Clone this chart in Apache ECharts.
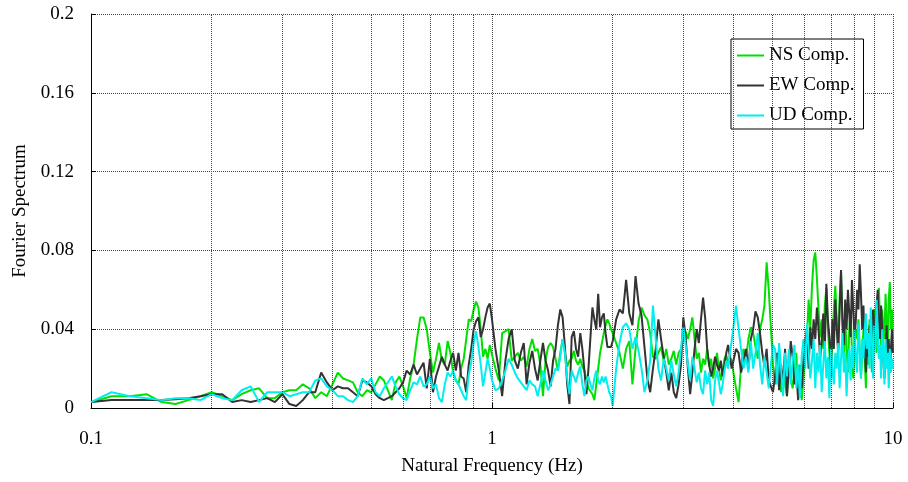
<!DOCTYPE html>
<html><head><meta charset="utf-8">
<script src="https://cdn.jsdelivr.net/npm/echarts@6/dist/echarts.min.js"></script>
<style>html,body{margin:0;padding:0;background:#fff}#c{width:908px;height:482px}</style>
</head><body><div id="c"></div>
<script>
// Frequencies (Hz)
const freqLow = [0.1,0.1125,0.125,0.1375,0.15,0.1625,0.175,0.1875,0.2,0.2125,0.225,0.2375,0.25,0.2625,0.275,0.2875,0.3,0.3125,0.325,0.3375,0.35,0.3625,0.375,0.3875,0.4,0.4125,0.425,0.4375,0.45,0.4625,0.475,0.4875,0.5,0.5125,0.525,0.5375,0.55,0.5625,0.575,0.5875,0.6,0.6125,0.625,0.6375,0.65,0.6625,0.675,0.6875,0.7,0.7125,0.725,0.7375,0.75,0.7625,0.775,0.7875,0.8,0.8125,0.825,0.8375,0.85,0.8625,0.875,0.8875,0.9,0.9125,0.925,0.9375,0.95,0.9625,0.975,0.9875,1.0];
const freqMid = [1.02,1.04,1.06,1.08,1.10,1.12,1.14,1.16,1.18,1.20,1.22,1.24,1.26,1.28,1.30,1.32,1.34,1.36,1.38,1.40,1.42,1.44,1.46,1.48,1.50,1.52,1.54,1.56,1.58,1.60,1.62,1.64,1.66,1.68,1.70,1.72,1.74,1.76,1.78,1.80,1.82,1.84,1.86,1.88,1.90,1.92,1.94,1.96,1.98,2.00];
const freqMid2 = [2.04,2.08,2.12,2.16,2.20,2.24,2.28,2.32,2.36,2.40,2.44,2.48,2.52,2.56,2.60,2.64,2.68,2.72,2.76,2.80,2.84,2.88,2.92,2.96,3.00,3.04,3.08,3.12,3.16,3.20,3.24,3.28,3.32,3.36,3.40,3.44,3.48,3.52,3.56,3.60,3.64,3.68,3.72,3.76,3.80,3.84,3.88,3.92,3.96,4.00];
const freqHigh = [4.06,4.12,4.18,4.24,4.30,4.36,4.42,4.48,4.54,4.60,4.66,4.72,4.78,4.84,4.90,4.96,5.02,5.08,5.14,5.20,5.26,5.32,5.38,5.44,5.50,5.56,5.62,5.68,5.74,5.80,5.86,5.92,5.98,6.04,6.10,6.16,6.22,6.28,6.34,6.40,6.46,6.52,6.58,6.64,6.70,6.76,6.82,6.88,6.94,7.00,7.06,7.12,7.18,7.24,7.30,7.36,7.42,7.48,7.54,7.60,7.66,7.72,7.78,7.84,7.90,7.96,8.02,8.08,8.14,8.20,8.26,8.32,8.38,8.44,8.50,8.56,8.62,8.68,8.74,8.80,8.86,8.92,8.98,9.04,9.10,9.16,9.22,9.28,9.34,9.40,9.46,9.52,9.58,9.64,9.70,9.76,9.82,9.88,9.94,10.00];

// NS Comp.
const nsLow = [0.003,0.006,0.006,0.007,0.003,0.002,0.004,0.006,0.008,0.006,0.004,0.007,0.009,0.010,0.005,0.005,0.008,0.009,0.009,0.012,0.010,0.005,0.008,0.006,0.012,0.018,0.015,0.014,0.013,0.008,0.006,0.009,0.008,0.012,0.016,0.014,0.009,0.004,0.013,0.016,0.011,0.005,0.015,0.022,0.035,0.046,0.046,0.040,0.028,0.018,0.025,0.033,0.024,0.022,0.034,0.028,0.018,0.014,0.012,0.020,0.025,0.035,0.045,0.044,0.050,0.054,0.051,0.040,0.026,0.030,0.025,0.032,0.027];
const nsMid = [0.020,0.014,0.038,0.039,0.040,0.024,0.026,0.028,0.024,0.026,0.021,0.030,0.035,0.029,0.030,0.022,0.006,0.024,0.031,0.033,0.031,0.025,0.019,0.028,0.035,0.028,0.021,0.024,0.025,0.029,0.024,0.022,0.025,0.021,0.019,0.014,0.010,0.009,0.007,0.004,0.012,0.020,0.028,0.033,0.038,0.042,0.045,0.043,0.040,0.038];
const nsMid2 = [0.033,0.028,0.020,0.030,0.034,0.012,0.030,0.044,0.051,0.047,0.045,0.038,0.026,0.025,0.028,0.031,0.024,0.030,0.022,0.025,0.029,0.022,0.028,0.030,0.035,0.039,0.035,0.040,0.046,0.035,0.025,0.028,0.018,0.025,0.022,0.030,0.021,0.025,0.015,0.020,0.028,0.020,0.014,0.019,0.025,0.027,0.022,0.026,0.024,0.018];
const nsHigh = [0.010,0.003,0.022,0.030,0.025,0.035,0.041,0.038,0.031,0.025,0.040,0.045,0.052,0.074,0.060,0.041,0.022,
0.012,0.022,0.030,0.008,0.018,0.012,0.006,0.024,0.015,0.010,0.020,0.028,0.008,0.022,0.004,0.015,0.030,
0.035,0.055,0.040,0.062,0.075,0.079,0.066,0.050,0.036,0.045,0.030,0.052,0.061,0.040,0.028,0.015,0.035,
0.050,0.062,0.045,0.030,0.055,0.069,0.040,0.025,0.045,0.030,0.018,0.040,0.050,0.028,0.015,0.035,0.040,
0.035,0.045,0.030,0.015,0.028,0.040,0.025,0.010,0.035,0.022,0.045,0.030,0.018,0.036,0.050,0.040,0.028,
0.050,0.061,0.045,0.030,0.050,0.040,0.035,0.058,0.045,0.030,0.055,0.064,0.040,0.050,0.035];

// EW Comp.
const ewLow = [0.003,0.004,0.004,0.004,0.004,0.0045,0.005,0.006,0.007,0.007,0.003,0.004,0.003,0.004,0.005,0.003,0.007,0.002,0.001,0.004,0.008,0.008,0.018,0.013,0.009,0.011,0.010,0.010,0.008,0.006,0.014,0.013,0.011,0.007,0.005,0.004,0.005,0.006,0.008,0.010,0.013,0.019,0.017,0.022,0.017,0.020,0.023,0.010,0.025,0.008,0.016,0.021,0.026,0.022,0.019,0.024,0.028,0.019,0.028,0.016,0.015,0.008,0.022,0.030,0.040,0.044,0.046,0.036,0.040,0.046,0.051,0.053,0.045];
const ewMid = [0.030,0.019,0.006,0.024,0.035,0.040,0.024,0.020,0.028,0.033,0.012,0.023,0.029,0.020,0.014,0.024,0.033,0.024,0.019,0.011,0.024,0.030,0.042,0.050,0.046,0.031,0.012,0.002,0.036,0.039,0.030,0.026,0.038,0.030,0.019,0.007,0.020,0.036,0.051,0.045,0.040,0.058,0.041,0.046,0.048,0.038,0.031,0.030,0.031,0.034];
const ewMid2 = [0.045,0.050,0.048,0.065,0.048,0.042,0.067,0.053,0.047,0.031,0.015,0.008,0.020,0.030,0.045,0.035,0.026,0.018,0.009,0.018,0.008,0.005,0.012,0.022,0.046,0.036,0.020,0.007,0.018,0.030,0.040,0.033,0.045,0.056,0.046,0.030,0.022,0.016,0.020,0.026,0.022,0.019,0.024,0.016,0.022,0.028,0.032,0.026,0.020,0.024];
const ewHigh = [0.030,0.028,0.018,0.024,0.030,0.020,0.035,0.040,0.049,0.046,0.038,0.028,0.021,0.030,0.014,0.011,0.008,
0.016,0.028,0.009,0.022,0.012,0.030,0.006,0.020,0.034,0.026,0.012,0.018,0.004,0.016,0.010,0.025,0.034,
0.040,0.020,0.041,0.030,0.045,0.035,0.051,0.040,0.025,0.034,0.048,0.030,0.063,0.045,0.036,0.020,0.045,
0.030,0.055,0.040,0.028,0.050,0.070,0.045,0.032,0.055,0.040,0.060,0.048,0.036,0.065,0.050,0.035,0.045,
0.060,0.050,0.073,0.058,0.040,0.052,0.030,0.018,0.035,0.026,0.042,0.030,0.040,0.050,0.038,0.045,0.052,
0.060,0.045,0.035,0.052,0.040,0.024,0.015,0.030,0.042,0.025,0.035,0.018,0.030,0.040,0.028];

// UD Comp.
const udLow = [0.003,0.008,0.006,0.005,0.004,0.005,0.005,0.004,0.007,0.005,0.004,0.009,0.011,0.003,0.008,0.008,0.008,0.006,0.007,0.008,0.008,0.014,0.015,0.011,0.009,0.006,0.006,0.004,0.003,0.006,0.015,0.012,0.015,0.008,0.006,0.010,0.013,0.016,0.011,0.007,0.005,0.004,0.009,0.013,0.012,0.016,0.011,0.012,0.016,0.010,0.012,0.005,0.003,0.012,0.018,0.016,0.019,0.014,0.012,0.009,0.006,0.004,0.017,0.023,0.033,0.039,0.031,0.022,0.011,0.018,0.025,0.020,0.014];
const udMid = [0.009,0.010,0.014,0.019,0.025,0.022,0.018,0.015,0.013,0.011,0.009,0.014,0.012,0.011,0.006,0.012,0.019,0.014,0.009,0.012,0.016,0.020,0.019,0.026,0.035,0.028,0.015,0.007,0.019,0.016,0.013,0.018,0.021,0.012,0.006,0.014,0.016,0.012,0.009,0.015,0.019,0.014,0.012,0.016,0.013,0.016,0.012,0.008,0.006,0.001];
const udMid2 = [0.020,0.033,0.041,0.043,0.040,0.030,0.036,0.029,0.020,0.008,0.014,0.024,0.052,0.035,0.020,0.014,0.025,0.020,0.014,0.024,0.017,0.011,0.018,0.030,0.041,0.032,0.022,0.014,0.026,0.020,0.013,0.018,0.010,0.007,0.019,0.012,0.018,0.004,0.001,0.014,0.019,0.013,0.007,0.012,0.019,0.024,0.020,0.028,0.034,0.041];
const udHigh = [0.052,0.040,0.030,0.020,0.026,0.018,0.034,0.020,0.028,0.038,0.022,0.012,0.026,0.018,0.010,0.022,0.032,
0.030,0.012,0.033,0.020,0.006,0.028,0.016,0.030,0.012,0.024,0.032,0.010,0.022,0.005,0.026,0.035,0.020,
0.043,0.030,0.015,0.024,0.035,0.010,0.028,0.018,0.032,0.008,0.022,0.034,0.015,0.026,0.005,0.030,0.020,
0.012,0.028,0.020,0.033,0.010,0.025,0.038,0.018,0.028,0.006,0.022,0.030,0.014,0.032,0.020,0.040,0.025,
0.018,0.043,0.030,0.015,0.035,0.025,0.040,0.048,0.030,0.038,0.020,0.051,0.035,0.015,0.042,0.030,0.055,
0.040,0.025,0.032,0.015,0.040,0.030,0.012,0.035,0.020,0.028,0.010,0.030,0.018,0.025,0.020];

// Axis ticks / gridlines
const yTicks = [0, 0.04, 0.08, 0.12, 0.16, 0.2];
const xMinorGrid = [0.2,0.3,0.4,0.5,0.6,0.7,0.8,0.9,2,3,4,5,6,7,8,9];
const seriesNames = ['NS Comp.','EW Comp.','UD Comp.'];
const seriesColors = ['#00e000','#333333','#00eeee'];

const freq = freqLow.concat(freqMid, freqMid2, freqHigh);
const ns = nsLow.concat(nsMid, nsMid2, nsHigh);
const ew = ewLow.concat(ewMid, ewMid2, ewHigh);
const ud = udLow.concat(udMid, udMid2, udHigh);
const pairs = vals => freq.map((f, i) => [f, vals[i]]);

const FONT = '"Liberation Serif","Times New Roman",serif';
const chart = echarts.init(document.getElementById('c'), null, {renderer: 'canvas'});
const gridLine = {type: [1, 1], color: '#444', width: 1};

const mkSeries = (name, color, vals) => ({
  name, type: 'line', data: pairs(vals), showSymbol: false, symbol: 'none',
  lineStyle: {color, width: 2}, itemStyle: {color}, z: 3, silent: true
});

chart.setOption({
  animation: false,
  backgroundColor: '#fff',
  grid: {left: 91, right: 15, top: 14, bottom: 74, containLabel: false},
  xAxis: {
    type: 'log', logBase: 10, min: 0.1, max: 10,
    axisLine: {lineStyle: {color: '#000', width: 1}},
    axisTick: {inside: true, length: 5, lineStyle: {color: '#000'}},
    axisLabel: {fontFamily: FONT, fontSize: 19, color: '#000', margin: 22,
      formatter: v => String(Math.round(v * 1000) / 1000)},
    splitLine: {show: true, lineStyle: gridLine},
    name: 'Natural Frequency (Hz)', nameLocation: 'middle', nameGap: 49,
    nameTextStyle: {fontFamily: FONT, fontSize: 19, color: '#000'}
  },
  yAxis: {
    type: 'value', min: yTicks[0], max: yTicks[yTicks.length - 1], interval: 0.04,
    axisLine: {show: true, lineStyle: {color: '#000', width: 1}},
    axisTick: {show: true, inside: true, length: 5, lineStyle: {color: '#000'}},
    axisLabel: {fontFamily: FONT, fontSize: 19, color: '#000', margin: 17,
      formatter: v => String(Math.round(v * 1000) / 1000)},
    splitLine: {show: true, lineStyle: gridLine},
    name: 'Fourier Spectrum', nameLocation: 'middle', nameGap: 61,
    nameTextStyle: {fontFamily: FONT, fontSize: 19, color: '#000'}
  },
  legend: {
    orient: 'vertical', left: 731, top: 39, data: seriesNames,
    icon: 'rect', itemWidth: 27, itemHeight: 2, itemGap: 11,
    padding: [7, 9, 4, 6], backgroundColor: '#fff', borderColor: '#000', borderWidth: 1,
    textStyle: {fontFamily: FONT, fontSize: 19, color: '#000', lineHeight: 19}
  },
  series: [
    {
      name: 'grid', type: 'line', data: [], z: 1, silent: true,
      markLine: {
        silent: true, symbol: ['none', 'none'], label: {show: false},
        lineStyle: gridLine, animation: false,
        data: xMinorGrid.map(v => ({xAxis: v}))
      }
    },
    mkSeries(seriesNames[0], seriesColors[0], ns),
    mkSeries(seriesNames[1], seriesColors[1], ew),
    mkSeries(seriesNames[2], seriesColors[2], ud)
  ]
});
</script></body></html>
